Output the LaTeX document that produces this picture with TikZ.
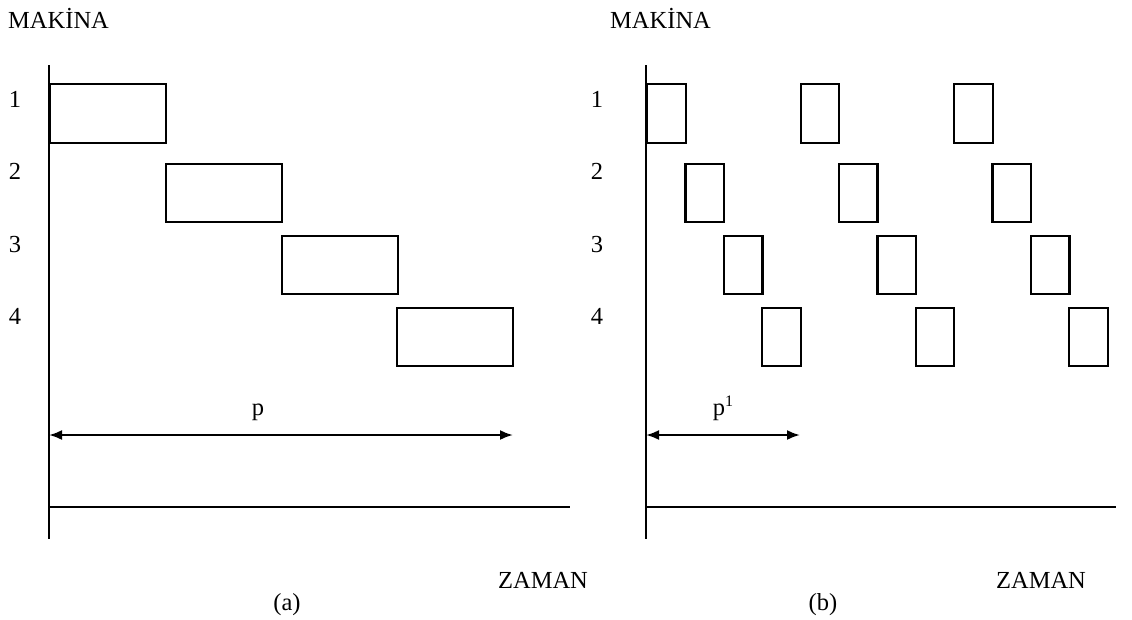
\documentclass[tikz,border=0pt]{standalone}
\usepackage{fontspec}
\setmainfont{Liberation Serif}
\usetikzlibrary{arrows.meta}
\begin{document}
\begin{tikzpicture}[x=1pt,y=-1pt,
  box/.style={draw,line width=2.2pt,inner sep=0pt,anchor=north west},
  axis/.style={line width=2.6pt},
  lbl/.style={font=\fontsize{24.5}{28}\selectfont,inner sep=0pt,anchor=base},
  dim/.style={line width=2.2pt,{Latex[length=13pt,width=10pt]}-{Latex[length=13pt,width=10pt]}}]
\useasboundingbox (0,0) rectangle (1132,619);
% ---- panel (a)
\node[lbl,anchor=base west] (ma) at (8,28) {MAKİNA};
\coordinate (ayt) at (49,65);
\coordinate (ayb) at (49,539);
\coordinate (axl) at (49,507);
\coordinate (axr) at (570,507);
\draw[axis] (ayt) -- (ayb);
\draw[axis] (axl) -- (axr);
\node[lbl] (an1) at (15,107) {1};
\node[lbl] (an2) at (15,179) {2};
\node[lbl] (an3) at (15,252) {3};
\node[lbl] (an4) at (15,324) {4};
\node[box,minimum width=116,minimum height=59] (a1) at (49,83) {};
\node[box,minimum width=116,minimum height=58] (a2) at (165,163) {};
\node[box,minimum width=116,minimum height=58] (a3) at (281,235) {};
\node[box,minimum width=116,minimum height=58] (a4) at (396,307) {};
\coordinate (pal) at (49,435);
\coordinate (par) at (513,435);
\draw[dim] (pal) -- (par);
\node[lbl] (pa) at (258,415) {p};
\node[lbl] (za) at (543,588) {ZAMAN};
\node[lbl] (capa) at (287,610) {(a)};
% ---- panel (b)
\node[lbl,anchor=base west] (mb) at (610,28) {MAKİNA};
\coordinate (byt) at (646,65);
\coordinate (byb) at (646,539);
\coordinate (bxl) at (646,507);
\coordinate (bxr) at (1116,507);
\draw[axis] (byt) -- (byb);
\draw[axis] (bxl) -- (bxr);
\node[lbl] (bn1) at (597,107) {1};
\node[lbl] (bn2) at (597,179) {2};
\node[lbl] (bn3) at (597,252) {3};
\node[lbl] (bn4) at (597,324) {4};
\foreach \k in {0,1,2}{
  \node[box,minimum width=38.5,minimum height=59] (b1\k) at ({646+153.5*\k},83) {};
  \node[box,minimum width=38.5,minimum height=58] (b2\k) at ({684.4+153.5*\k},163) {};
  \node[box,minimum width=38.5,minimum height=58] (b3\k) at ({722.8+153.5*\k},235) {};
  \node[box,minimum width=38.5,minimum height=58] (b4\k) at ({761.2+153.5*\k},307) {};
}
\coordinate (pbl) at (646,435);
\coordinate (pbr) at (800,435);
\draw[dim] (pbl) -- (pbr);
\node[lbl] (pb) at (723,415) {p\raisebox{0.75ex}{\fontsize{16}{18}\selectfont 1}};
\node[lbl] (zb) at (1041,588) {ZAMAN};
\node[lbl] (capb) at (823,610) {(b)};
\end{tikzpicture}
\end{document}
